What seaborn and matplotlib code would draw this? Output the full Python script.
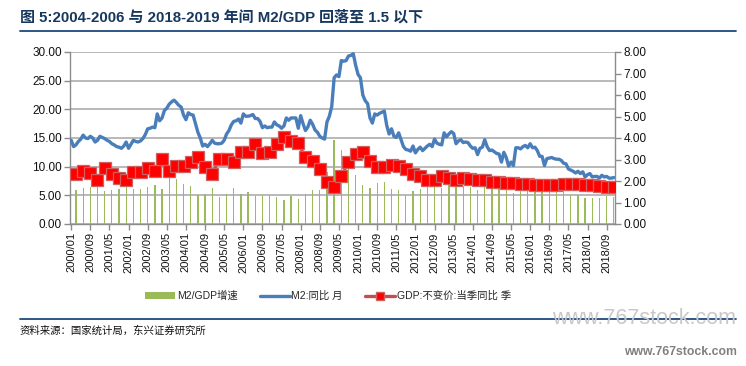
import numpy as np
import pandas as pd
import matplotlib
matplotlib.use("Agg")
import matplotlib.pyplot as plt
import seaborn as sns
from matplotlib.lines import Line2D
from matplotlib.patches import Patch

# ---------------- data ----------------
# M2 yoy (%), monthly 2000/01 - 2018/12
m2_monthly = [
    14.6, 13.5, 13.8, 14.4, 14.8, 15.5, 15.0, 14.9, 15.3, 15.0, 14.3, 14.6,   # 2000
    15.3, 15.1, 14.9, 14.6, 14.4, 14.0, 13.8, 13.5, 13.4, 13.2, 13.6, 14.3,   # 2001
    13.2, 13.9, 14.6, 14.4, 14.3, 14.5, 14.9, 15.6, 16.6, 16.7, 16.9, 16.8,   # 2002
    19.2, 18.0, 18.5, 19.8, 20.2, 20.9, 21.3, 21.6, 21.2, 20.7, 20.4, 19.0,   # 2003
    18.2, 19.4, 19.1, 19.0, 17.5, 16.0, 15.0, 13.6, 13.9, 13.5, 14.0, 14.6,   # 2004
    14.1, 14.0, 14.0, 14.1, 14.6, 15.7, 16.3, 17.3, 17.9, 18.0, 18.3, 17.6,   # 2005
    19.2, 18.8, 18.8, 18.9, 19.1, 18.4, 18.4, 17.9, 16.8, 17.1, 16.8, 16.9,   # 2006
    16.9, 17.8, 17.3, 17.1, 16.7, 17.1, 18.5, 18.1, 18.5, 18.5, 18.5, 16.7,   # 2007
    18.9, 17.5, 16.3, 16.9, 18.1, 17.4, 16.4, 16.0, 15.3, 15.0, 14.8, 17.8,   # 2008
    18.8, 20.5, 25.5, 26.0, 25.7, 28.5, 28.4, 28.5, 29.3, 29.4, 29.7, 27.7,   # 2009
    26.1, 25.5, 22.5, 21.5, 21.0, 18.5, 17.6, 19.2, 19.0, 19.3, 19.5, 19.7,   # 2010
    17.2, 15.7, 16.6, 15.3, 15.1, 15.9, 14.7, 13.5, 13.0, 12.9, 12.7, 13.6,   # 2011
    12.4, 13.0, 13.4, 12.8, 13.2, 13.6, 13.9, 13.5, 14.8, 14.1, 13.9, 13.8,   # 2012
    15.9, 15.2, 15.7, 16.1, 15.8, 14.0, 14.5, 14.7, 14.2, 14.3, 14.2, 13.6,   # 2013
    13.2, 13.3, 12.1, 13.2, 13.4, 14.7, 13.5, 12.8, 12.9, 12.6, 12.3, 12.2,   # 2014
    10.8, 12.5, 11.6, 10.1, 10.8, 10.2, 13.3, 13.3, 13.1, 13.5, 13.7, 13.3,   # 2015
    14.0, 13.3, 13.4, 12.8, 11.8, 11.8, 10.2, 11.4, 11.5, 11.6, 11.4, 11.3,   # 2016
    11.3, 11.1, 10.6, 10.5, 9.6, 9.4, 9.2, 8.9, 9.2, 8.8, 9.1, 8.2,           # 2017
    8.6, 8.8, 8.2, 8.3, 8.3, 8.0, 8.5, 8.2, 8.3, 8.0, 8.0, 8.1,               # 2018
]

# GDP constant-price quarterly yoy (%), 2000Q1 - 2018Q4
gdp_quarterly = [
    8.8, 9.2, 8.9, 7.7,
    9.7, 8.8, 8.1, 7.7,
    9.0, 9.0, 9.7, 9.2,
    11.3, 9.2, 10.1, 10.1,
    10.8, 11.7, 9.9, 8.8,
    11.3, 11.3, 10.8, 12.5,
    12.5, 13.9, 12.3, 12.5,
    13.9, 15.2, 14.5, 14.1,
    11.6, 11.0, 9.6, 7.3,
    6.5, 8.3, 10.8, 12.2,
    12.5, 11.0, 10.0, 10.0,
    10.3, 10.2, 9.6, 8.8,
    8.3, 7.7, 7.7, 8.3,
    8.0, 7.7, 8.0, 7.8,
    7.6, 7.6, 7.4, 7.3,
    7.2, 7.1, 7.0, 6.9,
    6.8, 6.8, 6.8, 6.8,
    6.9, 6.9, 6.9, 6.8,
    6.8, 6.7, 6.5, 6.4,
]

# M2/GDP growth ratio, quarterly 2000Q1 - 2018Q4 (right axis)
m2_gdp_ratio = [
    1.57, 1.68, 1.72, 1.90,
    1.54, 1.59, 1.65, 1.86,
    1.62, 1.61, 1.71, 1.83,
    1.64, 2.27, 2.10, 1.88,
    1.77, 1.37, 1.40, 1.66,
    1.24, 1.39, 1.66, 1.41,
    1.50, 1.32, 1.37, 1.35,
    1.24, 1.13, 1.28, 1.18,
    1.41, 1.58, 1.59, 2.44,
    3.92, 3.43, 2.71, 2.27,
    1.80, 1.68, 1.90, 1.97,
    1.61, 1.56, 1.35, 1.55,
    1.61, 1.77, 1.92, 1.66,
    1.96, 1.82, 1.78, 1.74,
    1.59, 1.93, 1.74, 1.67,
    1.61, 1.44, 1.87, 1.93,
    1.97, 1.74, 1.69, 1.66,
    1.54, 1.36, 1.33, 1.21,
    1.21, 1.19, 1.28, 1.27,
]

tick_labels = [
    "2000/01", "2000/09", "2001/05", "2002/01", "2002/09", "2003/05", "2004/01",
    "2004/09", "2005/05", "2006/01", "2006/09", "2007/05", "2008/01", "2008/09",
    "2009/05", "2010/01", "2010/09", "2011/05", "2012/01", "2012/09", "2013/05",
    "2014/01", "2014/09", "2015/05", "2016/01", "2016/09", "2017/05", "2018/01",
    "2018/09",
]

title = "图 5:2004-2006 与 2018-2019 年间 M2/GDP 回落至 1.5 以下"
source = "资料来源：国家统计局，东兴证券研究所"
legend_names = ["M2/GDP增速", "M2:同比 月", "GDP:不变价:当季同比 季"]

# ---------------- frames ----------------
n_months = len(m2_monthly)
df_m2 = pd.DataFrame({"idx": np.arange(n_months), "val": m2_monthly})
q_idx = np.arange(2, n_months, 3)
df_q = pd.DataFrame({"idx": q_idx, "gdp": gdp_quarterly, "ratio": m2_gdp_ratio})

# ---------------- style ----------------
sns.set_theme(style="white")
FONTS = ["Liberation Sans", "Noto Sans CJK SC", "DejaVu Sans"]
plt.rcParams["font.family"] = FONTS

W, H = 746, 366
fig = plt.figure(figsize=(W / 100, H / 100), dpi=100)
L, R, T, B = 70, 615, 52, 224
ax = fig.add_axes([L / W, 1 - B / H, (R - L) / W, (B - T) / H])
ax2 = ax.twinx()

navy = "#1F497D"
grey = "#8C8C8C"
blue = "#4A7EBB"
green = "#9BBB59"

# bars on right axis
sns.barplot(data=df_q, x="idx", y="ratio", ax=ax2, native_scale=True,
            color=green, width=0.18, saturation=1, linewidth=0, zorder=1)

# lines on left axis
sns.lineplot(data=df_m2, x="idx", y="val", ax=ax, color=blue, linewidth=2.4,
             zorder=3)
sns.lineplot(data=df_q, x="idx", y="gdp", ax=ax, color="#C0504D", linewidth=2.2,
             marker="s", markersize=8, markerfacecolor="#FF0000",
             markeredgecolor="#D06060", markeredgewidth=0.9, zorder=4)

ax.set_zorder(ax2.get_zorder() + 1)
ax.patch.set_visible(False)

# axes
ax.set_xlim(-0.5, n_months - 0.5)
ax2.set_xlim(-0.5, n_months - 0.5)
ax.set_ylim(0, 30)
ax2.set_ylim(0, 8)
ax.set_yticks(np.arange(0, 31, 5))
ax.set_yticklabels([f"{v:.2f}" for v in np.arange(0, 31, 5)])
ax2.set_yticks(np.arange(0, 9, 1))
ax2.set_yticklabels([f"{v:.2f}" for v in np.arange(0, 9, 1)])
ax.set_xticks(np.arange(0, n_months, 8)[:len(tick_labels)])
ax.set_xticklabels(tick_labels, rotation=90)
ax.set_xlabel("")
ax.set_ylabel("")
ax2.set_xlabel("")
ax2.set_ylabel("")
ax2.grid(False)
ax.yaxis.grid(True, color="#A6A6A6", linewidth=1.1)
ax.xaxis.grid(False)
ax.set_axisbelow(True)

for a in (ax, ax2):
    a.spines["top"].set_visible(False)
    for s in ("left", "right", "bottom"):
        a.spines[s].set_color(grey)
        a.spines[s].set_linewidth(1.0)
ax.spines["right"].set_visible(False)
ax2.spines["left"].set_visible(False)
ax2.spines["bottom"].set_visible(False)

ax.tick_params(axis="y", direction="out", length=4, width=1, color=grey,
               labelsize=8.5, pad=2, labelcolor="#111111")
ax2.tick_params(axis="y", direction="out", length=4, width=1, color=grey,
                labelsize=8.5, pad=2, labelcolor="#111111")
ax.tick_params(axis="x", direction="out", length=4, width=1, color=grey,
               labelsize=8, pad=2, labelcolor="#111111", bottom=True)

# legend
handles = [
    Patch(facecolor=green, edgecolor="none"),
    Line2D([], [], color=blue, linewidth=2.4),
    Line2D([], [], color="#C0504D", linewidth=2.4, marker="s", markersize=6,
           markerfacecolor="#FF0000", markeredgecolor="#D06060"),
]
fig.legend(handles, legend_names, loc="center", ncol=3,
           bbox_to_anchor=(328 / W, 1 - 296 / H), frameon=False,
           fontsize=7.5, handlelength=2.9, handletextpad=0.15, columnspacing=2.1,
           handleheight=0.6)

# title and rules
fig.text(20 / W, 1 - 17 / H, title, fontsize=10.8, fontweight="bold",
         color="#17375E", va="center", ha="left")
fig.add_artist(Line2D([20 / W, 736 / W], [1 - 31 / H, 1 - 31 / H],
                      color=navy, linewidth=1.3, transform=fig.transFigure))
fig.add_artist(Line2D([20 / W, 736 / W], [1 - 319 / H, 1 - 319 / H],
                      color=navy, linewidth=1.3, transform=fig.transFigure))
fig.text(20 / W, 1 - 331 / H, source, fontsize=7.5, fontstyle="italic",
         color="#111111", va="center", ha="left")

# watermarks
fig.text(552 / W, 1 - 318 / H, "www.767stock.com", fontsize=15.5,
         color="#C8C8C8", va="center", ha="left")
fig.text(624 / W, 1 - 352 / H, "www.767stock.com", fontsize=8.8,
         color="#808080", va="center", ha="left", fontweight="bold")

fig.savefig("out.png", dpi=100)
